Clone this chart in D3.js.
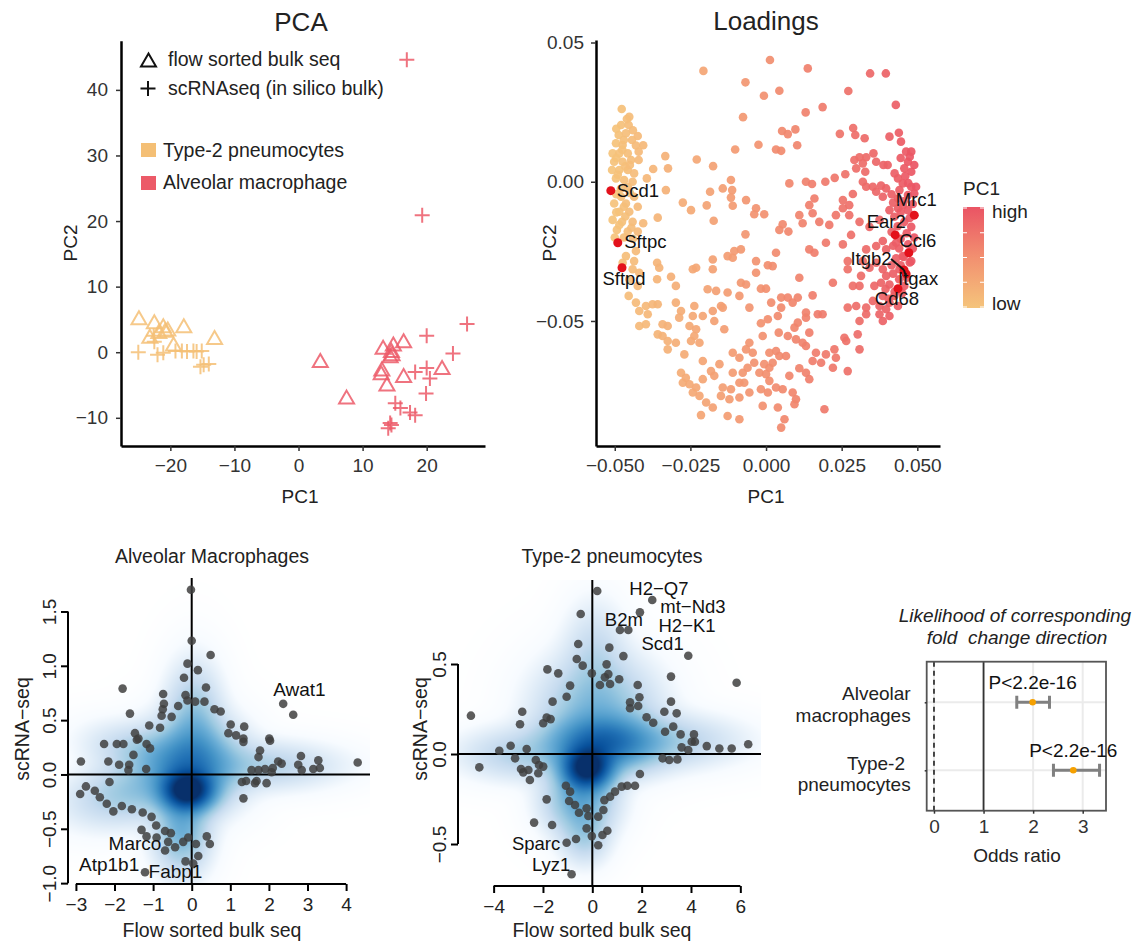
<!DOCTYPE html>
<html>
<head>
<meta charset="utf-8">
<script src="https://cdn.jsdelivr.net/npm/d3@7"></script>
<style>
  body { margin: 0; background: #fff; }
</style>
</head>
<body>
<script>
// ---------------- data ----------------
// PCA scores (PC1, PC2) per group
var t2BulkPC1 = [-24.9, -22.5, -23.2, -21.1, -20.4, -21.8, -17.9, -19.5, -13.1, -20.8];
var t2BulkPC2 = [5.1, 4.5, 2.3, 3.9, 3.4, 3.0, 3.9, 1.1, 2.1, 3.2];
var t2ScPC1 = [-25.0, -22.5, -22.0, -21.1, -19.2, -18.2, -17.4, -16.4, -15.9, -15.1, -14.8, -15.3, -14.0, -22.6];
var t2ScPC2 = [0, 1.6, -0.4, -0.1, 0.2, 0.2, 0.1, 0.2, 0.1, 0.2, -1.9, -2.2, -1.8, 2.5];
var amBulkPC1 = [3.4, 7.5, 13.2, 14.8, 16.4, 14.6, 14.3, 13.0, 12.9, 13.8, 16.4, 22.4, 14.5];
var amBulkPC2 = [-1.4, -7.0, 0.6, 1.1, 1.6, -0.4, -0.7, -2.7, -3.3, -5.0, -3.7, -2.5, 0.1];
var amScPC1 = [20.0, 26.3, 24.1, 20.0, 20.5, 18.2, 19.9, 15.1, 15.9, 17.4, 18.2, 14.3, 14.0, 14.5, 16.9, 19.3];
var amScPC2 = [2.5, 4.3, -0.2, -2.4, -4.0, -3.0, -6.3, -7.8, -8.5, -9.2, -9.6, -10.8, -11.6, -11.1, 44.6, 20.9];

// gene loadings [PC1, PC2]
var loadings = [
[0.0013,0.0437],[0.0138,0.0407],[-0.0207,0.0398],[0.0344,0.0389],[0.0396,0.0389],[-0.0068,0.0357],[0.0044,0.0327],[-0.0007,0.0309],[0.0272,0.0326],[0.0429,0.0276],[0.0187,0.0268],[0.0131,0.0249],[-0.0076,0.0232],[0.0097,0.0188],[0.0053,0.0182],[0.0072,0.0171],[0.0244,0.0172],[0.0288,0.0193],[0.0295,0.0168],[0.0326,0.0156],[0.0103,0.0131],[-0.0025,0.0133],[-0.0102,0.0116],[0.0033,0.0116],[0.0050,0.0111],[-0.0229,0.0080],[-0.0175,0.0056],[-0.0333,0.0092],[-0.0324,0.0048],[-0.0373,0.0046],[-0.0394,0.0012],[-0.0331,-0.0030],[-0.0358,-0.0129],[-0.0406,-0.0149],
[0.0408,0.0162],[0.0439,0.0176],[0.0446,0.0144],[0.0463,0.0108],[0.0480,0.0108],[0.0469,0.0072],[0.0457,0.0048],[0.0480,0.0036],[0.0402,0.0060],[0.0388,0.0060],[0.0355,0.0102],[0.0331,0.0088],[0.0309,0.0088],[0.0292,0.0078],[0.0320,0.0066],[0.0364,0.0072],[0.0298,0.0048],[0.0328,0.0036],[0.0262,0.0027],[0.0227,0.0014],[0.0196,0.0000],[0.0132,0.0000],[0.0152,-0.0008],[0.0077,-0.0006],[0.0320,0.0000],[0.0331,-0.0018],[0.0353,-0.0018],[0.0380,-0.0014],[0.0397,-0.0024],[0.0364,-0.0036],[0.0386,-0.0054],[0.0436,0.0012],[0.0452,-0.0006],[0.0480,-0.0018],[0.0496,-0.0018],[0.0441,-0.0030],[0.0469,-0.0048],[0.0490,-0.0042],[0.0436,-0.0060],[0.0452,-0.0084],[0.0436,-0.0095],[0.0469,-0.0102],[0.0424,-0.0126],[0.0408,-0.0102],[0.0480,-0.0162],[0.0457,-0.0144],
[0.0445,0.0085],[0.0475,0.0090],[0.0490,0.0060],[0.0460,0.0020],[0.0425,0.0030],[0.0470,-0.0005],[0.0415,-0.0045],[0.0455,-0.0070],[0.0485,-0.0080],[0.0420,-0.0075],[0.0445,-0.0110],[0.0475,-0.0130],[0.0435,-0.0160],[0.0465,-0.0185],[0.0490,-0.0200],[0.0445,-0.0205],[0.0415,-0.0180],[0.0470,-0.0225],[0.0440,-0.0240],[0.0420,-0.0230],[0.0485,-0.0240],[0.0455,-0.0270],[0.0430,-0.0275],[0.0475,-0.0290],[0.0445,-0.0300],[0.0415,-0.0300],[0.0465,-0.0345],[0.0440,-0.0350],[0.0420,-0.0330],[0.0450,-0.0400],[0.0425,-0.0395],[0.0405,-0.0420],[0.0395,-0.0385],
[0.0287,-0.0044],[0.0254,-0.0066],[0.0275,-0.0084],[0.0254,-0.0095],[0.0160,-0.0060],[0.0143,-0.0084],[0.0110,-0.0120],[0.0121,-0.0149],[0.0154,-0.0113],[0.0176,-0.0144],[0.0209,-0.0155],[0.0231,-0.0120],[0.0275,-0.0120],[0.0309,-0.0144],[0.0281,-0.0191],[0.0342,-0.0162],[0.0375,-0.0137],[0.0055,-0.0153],[0.0044,-0.0173],[0.0074,-0.0179],[-0.0033,-0.0095],[-0.0006,-0.0117],[-0.0039,-0.0117],[-0.0066,-0.0066],[-0.0116,0.0006],[-0.0143,-0.0024],[-0.0112,-0.0030],[-0.0185,-0.0036],[-0.0116,-0.0057],[-0.0110,-0.0086],[-0.0196,-0.0085],[-0.0275,-0.0075],[-0.0248,-0.0102],[-0.0173,-0.0140],[-0.0068,-0.0189],
[-0.0477,0.0261],[-0.0452,0.0233],[-0.0479,0.0204],[-0.0454,0.0204],[-0.0487,0.0168],[-0.0463,0.0174],[-0.0424,0.0164],[-0.0443,0.0150],[-0.0406,0.0131],[-0.0496,0.0138],[-0.0474,0.0132],[-0.0507,0.0102],[-0.0485,0.0102],[-0.0457,0.0102],[-0.0421,0.0108],[-0.0502,0.0072],[-0.0474,0.0072],[-0.0446,0.0078],[-0.0421,0.0078],[-0.0509,0.0042],[-0.0485,0.0042],[-0.0457,0.0042],[-0.0436,0.0030],[-0.0496,0.0012],[-0.0469,0.0006],[-0.0441,0.0000],[-0.0457,-0.0018],[-0.0479,-0.0054],[-0.0502,-0.0078],[-0.0463,-0.0078],[-0.0436,-0.0054],[-0.0485,-0.0108],[-0.0452,-0.0108],[-0.0424,-0.0090],[-0.0507,-0.0137],[-0.0476,-0.0144],[-0.0441,-0.0144],[-0.0493,-0.0173],[-0.0457,-0.0179],[-0.0424,-0.0179],
[-0.0495,0.0190],[-0.0470,0.0150],[-0.0495,0.0085],[-0.0465,0.0055],[-0.0490,0.0025],[-0.0450,0.0060],[-0.0480,-0.0025],[-0.0495,-0.0045],[-0.0450,-0.0040],[-0.0470,-0.0090],[-0.0495,-0.0110],[-0.0465,-0.0125],[-0.0485,-0.0155],[-0.0445,-0.0165],[-0.0470,-0.0200],[-0.0500,-0.0200],[-0.0440,-0.0205],[-0.0460,0.0225],[-0.0440,0.0185],[-0.0475,0.0115],[-0.0430,0.0130],
[-0.0430,-0.0249],[-0.0463,-0.0267],[-0.0436,-0.0285],[-0.0474,-0.0291],[-0.0441,-0.0314],[-0.0419,-0.0327],[-0.0452,-0.0350],[-0.0424,-0.0374],[-0.0454,-0.0410],[-0.0430,-0.0434],[-0.0397,-0.0446],[-0.0419,-0.0464],[-0.0391,-0.0476],[-0.0419,-0.0518],[-0.0397,-0.0512],[-0.0360,-0.0291],[-0.0353,-0.0309],[-0.0360,-0.0350],[-0.0314,-0.0341],[-0.0298,-0.0374],[-0.0375,-0.0440],[-0.0358,-0.0440],[-0.0358,-0.0548],[-0.0342,-0.0512],[-0.0325,-0.0518],[-0.0342,-0.0554],[-0.0325,-0.0572],[-0.0298,-0.0578],[-0.0325,-0.0602],[-0.0270,-0.0620],[-0.0298,-0.0434],[-0.0281,-0.0464],[-0.0287,-0.0488],[-0.0242,-0.0314],[-0.0231,-0.0309],[-0.0237,-0.0446],[-0.0242,-0.0482],[-0.0253,-0.0518],[-0.0231,-0.0530],[-0.0209,-0.0482],[-0.0237,-0.0554],[-0.0248,-0.0572],[-0.0220,-0.0578],[-0.0176,-0.0279],[-0.0176,-0.0314],[-0.0193,-0.0386],[-0.0165,-0.0392],[-0.0176,-0.0464],[-0.0143,-0.0452],[-0.0171,-0.0500],[-0.0149,-0.0446],[-0.0138,-0.0530],[-0.0127,-0.0267],[-0.0110,-0.0273],[-0.0105,-0.0249],[-0.0083,-0.0243],[-0.0083,-0.0363],[-0.0066,-0.0369],[-0.0127,-0.0398],[-0.0088,-0.0410],[-0.0055,-0.0452],[-0.0033,-0.0285],[0.0006,-0.0300],[0.0022,-0.0303],[-0.0033,-0.0327],[0.0033,-0.0255],[-0.0017,-0.0384],[0.0000,-0.0384],[0.0017,-0.0434],[0.0050,-0.0416],[0.0072,-0.0416],[0.0088,-0.0434],[0.0105,-0.0416],[0.0050,-0.0452],[0.0039,-0.0482],[0.0006,-0.0494],[-0.0017,-0.0508],[-0.0011,-0.0554],[0.0042,-0.0542],[0.0094,-0.0524],[0.0110,-0.0345],[0.0143,-0.0243],[0.0160,-0.0255],[0.0198,-0.0219],[0.0254,-0.0225],[0.0270,-0.0285],[0.0221,-0.0363],[0.0154,-0.0408],[0.0132,-0.0470],[0.0132,-0.0488],[0.0105,-0.0506],[0.0171,-0.0476],[0.0187,-0.0476],[0.0143,-0.0542],[0.0121,-0.0578],[0.0132,-0.0590],[0.0165,-0.0614],[0.0198,-0.0620],[0.0226,-0.0602],[0.0259,-0.0560],[0.0265,-0.0572],[0.0303,-0.0548],[0.0309,-0.0602],[0.0231,-0.0632],[0.0221,-0.0668],[0.0270,-0.0680],[0.0270,-0.0452],[0.0298,-0.0446],[0.0331,-0.0452],[0.0309,-0.0500],[0.0331,-0.0476],[0.0287,-0.0374],[0.0309,-0.0374],[0.0314,-0.0338],[0.0270,-0.0314],[0.0386,-0.0500],[0.0408,-0.0482],[0.0375,-0.0476],[0.0353,-0.0428],[0.0375,-0.0446],[0.0397,-0.0458],[0.0386,-0.0410],[0.0408,-0.0434],[0.0436,-0.0446],[0.0424,-0.0410],[0.0358,-0.0374],[0.0380,-0.0363],[0.0397,-0.0338],[0.0408,-0.0369],[0.0441,-0.0314],[0.0386,-0.0314],[0.0364,-0.0291],[0.0342,-0.0309],[0.0320,-0.0285],[0.0331,-0.0243],[0.0364,-0.0231],[0.0397,-0.0243],[0.0386,-0.0213],[0.0430,-0.0219],[0.0452,-0.0267],[0.0480,-0.0285],[0.0457,-0.0374],
[-0.0209,-0.0644],[-0.0281,-0.0686],[-0.0265,-0.0704],[-0.0275,-0.0722],[-0.0253,-0.0727],[-0.0231,-0.0739],[-0.0242,-0.0757],[-0.0220,-0.0769],[-0.0198,-0.0793],[-0.0176,-0.0811],[-0.0215,-0.0838],[-0.0182,-0.0680],[-0.0209,-0.0709],[-0.0171,-0.0697],[-0.0154,-0.0655],[-0.0143,-0.0739],[-0.0116,-0.0745],[-0.0149,-0.0769],[-0.0121,-0.0781],[-0.0127,-0.0841],[-0.0088,-0.0853],[-0.0088,-0.0775],[-0.0055,-0.0757],[-0.0110,-0.0614],[-0.0088,-0.0632],[-0.0110,-0.0686],[-0.0077,-0.0686],[-0.0061,-0.0668],[-0.0088,-0.0722],[-0.0072,-0.0722],[-0.0055,-0.0578],[-0.0044,-0.0614],[-0.0039,-0.0650],[-0.0022,-0.0686],[-0.0006,-0.0655],[0.0011,-0.0668],[0.0000,-0.0691],[0.0022,-0.0650],[0.0033,-0.0608],[0.0044,-0.0626],[0.0066,-0.0626],[0.0011,-0.0715],[-0.0017,-0.0745],[0.0006,-0.0757],[0.0033,-0.0739],[0.0055,-0.0745],[-0.0011,-0.0805],[0.0039,-0.0811],[0.0088,-0.0757],[0.0099,-0.0781],[0.0094,-0.0799],[0.0061,-0.0853],[0.0050,-0.0883],[0.0110,-0.0670],[0.0132,-0.0686],[0.0143,-0.0709],[0.0077,-0.0697],[0.0011,-0.0614],[0.0072,-0.0554],[0.0099,-0.0566],[0.0193,-0.0817],[0.0154,-0.0644],[0.0182,-0.0650],[-0.0066,-0.0602]
];

// highlighted genes in the loadings plot
var geneNames = ["Scd1", "Sftpc", "Sftpd", "Mrc1", "Ear2", "Ccl6", "Itgb2", "Itgax", "Cd68"];
var genePC1 = [-0.0513, -0.0490, -0.0476, 0.0490, 0.0427, 0.0472, 0.0456, 0.0463, 0.0436];
var genePC2 = [-0.0032, -0.0219, -0.0309, -0.0120, -0.0191, -0.0255, -0.0317, -0.0331, -0.0384];

// fold changes: [flow sorted bulk, scRNA-seq]
var amFC = [
[-0.02,1.70],[0.0,1.23],[0.49,1.10],[-0.11,1.02],[0.16,0.96],[-0.20,0.89],[0.37,0.80],[-1.79,0.79],[-0.16,0.73],[-0.74,0.74],[-0.11,0.68],[0.09,0.67],[0.33,0.67],[-0.72,0.65],[-0.35,0.63],[-0.75,0.60],[0.59,0.60],[0.75,0.58],[-0.78,0.54],[-0.52,0.53],[-1.60,0.56],[2.37,0.65],[2.63,0.55],[-1.10,0.45],[-0.82,0.43],[1.01,0.46],[1.36,0.44],[-1.47,0.38],[0.95,0.38],[1.15,0.36],[1.34,0.33],[-1.38,0.33],[2.01,0.33],
[-2.27,0.28],[-1.94,0.28],[-1.77,0.28],[-1.42,0.32],[-1.17,0.28],[-1.08,0.24],[-1.51,0.18],[-2.87,0.12],[-2.16,0.12],[-1.88,0.09],[-1.62,0.09],[-1.64,0.04],[-1.18,0.05],[1.34,0.30],[1.77,0.22],[2.03,0.31],[1.73,0.16],[2.24,0.12],[2.33,0.10],[1.55,0.04],[1.73,0.04],[1.90,0.05],[2.07,0.02],[2.10,0.06],[2.76,0.09],[2.85,0.04],[2.83,0.17],[3.15,0.05],[3.28,0.13],[3.32,0.06],[4.30,0.11],[1.30,-0.07],[1.41,-0.06],[1.64,-0.08],[1.68,-0.06],[1.94,-0.08],[1.34,-0.22],[-2.13,-0.07],[-2.74,-0.11],[-2.89,-0.18],[-2.51,-0.15],[-2.38,-0.21],[-2.20,-0.27],[-2.03,-0.34],[-1.81,-0.29],[-1.55,-0.32],[-1.27,-0.35],[-1.04,-0.39],[-0.92,-0.47],[-1.30,-0.51],[-1.17,-0.57],[-0.91,-0.58],[-0.69,-0.52],[-0.54,-0.54],[-0.61,-0.62],[-0.69,-0.70],[-0.43,-0.67],[-0.22,-0.62],[-0.09,-0.58],[0.11,-0.64],[0.17,-0.75],[0.39,-0.57],[0.47,-0.64],[-0.16,-0.80],[0.04,-0.82],[-1.21,-0.90]
];
var t2FC = [
[0.20,0.906],[2.43,0.856],[1.93,0.787],[-0.47,0.778],[1.12,0.689],[1.46,0.689],[-0.57,0.611],[0.69,0.591],[1.26,0.544],[3.89,0.546],[-0.63,0.528],[-0.39,0.491],[0.58,0.498],[-1.82,0.470],[-1.38,0.448],[-0.02,0.448],[0.65,0.444],[0.51,0.426],[3.19,0.430],[5.85,0.396],[-0.90,0.380],[0.31,0.383],[0.72,0.389],[1.09,0.415],[1.84,0.383],[-1.04,0.318],[-1.61,0.291],[1.91,0.315],[1.53,0.287],[1.53,0.254],[1.86,0.267],[3.19,0.291],[2.92,0.235],[3.42,0.226],[-2.84,0.235],[-4.92,0.213],[-1.85,0.202],[-1.69,0.194],[-1.99,0.171],[-2.93,0.165],[2.20,0.204],[2.47,0.174],[3.28,0.152],[2.95,0.124],[3.58,0.109],[4.12,0.109],
[-3.31,0.046],[-3.77,0.018],[-2.66,0.028],[-3.13,-0.024],[-4.58,-0.074],[-2.89,-0.083],[-2.80,-0.102],[-2.59,-0.089],[-2.29,-0.033],[-2.16,-0.061],[-1.99,-0.070],[-2.19,-0.107],[-2.53,-0.144],[4.03,0.068],[4.16,0.068],[3.62,0.037],[3.89,0.022],[4.64,0.044],[5.15,0.031],[5.65,0.031],[6.32,0.054],[2.85,-0.024],[3.12,-0.033],[3.45,-0.030],[1.93,-0.111],[1.73,-0.176],[1.42,-0.176],[1.19,-0.181],[0.92,-0.209],[0.72,-0.237],[0.49,-0.256],[0.45,-0.311],[0.24,-0.348],[-0.16,-0.344],[-0.23,-0.302],[-0.54,-0.326],[-0.70,-0.283],[-0.94,-0.261],[-0.90,-0.209],[-1.07,-0.176],[-1.85,-0.252],[-2.36,-0.381],[-1.63,-0.394],[-0.23,-0.413],[-0.02,-0.456],[0.41,-0.450],[0.61,-0.426],[-0.66,-0.472],[-1.04,-0.493],[0.24,-0.507],[-0.84,-0.668]
];

// labelled genes in the fold change panels: [name, bulk, scRNA] (text anchor points)
var amLabels = [["Awat1", 2.79, 0.72], ["Marco", -1.47, -0.695], ["Atp1b1", -2.14, -0.89], ["Fabp1", -0.42, -0.955]];
var t2Labels = [["H2\u2212Q7", 2.70, 0.883], ["mt\u2212Nd3", 4.08, 0.782], ["B2m", 1.28, 0.711], ["H2\u2212K1", 3.84, 0.680],
                ["Scd1", 2.85, 0.580], ["Sparc", -2.28, -0.533], ["Lyz1", -1.67, -0.65]];

// smoothed density components (centre, spread, weight, correlation)
var amBlobX = [-0.1, 0.0, 0.05, -1.5, 1.8, -0.25, -1.2];
var amBlobY = [-0.15, 0.1, 0.5, -0.15, 0.08, -0.5, 0.2];
var amBlobSX = [0.4, 0.7, 0.4, 0.9, 1.1, 0.4, 0.8];
var amBlobSY = [0.11, 0.22, 0.28, 0.17, 0.12, 0.22, 0.14];
var amBlobW = [1.0, 0.4, 0.14, 0.14, 0.09, 0.22, 0.1];
var amBlobR = [0, 0, 0, 0.3, 0, 0, -0.3];

var t2BlobX = [-0.2, 0.4, 0.2, -0.5, -0.3, 2.8, -2.8, 0.1];
var t2BlobY = [-0.08, 0.06, 0.25, -0.25, -0.45, 0.07, 0.0, 0.55];
var t2BlobSX = [0.6, 1.3, 1.3, 0.8, 0.55, 1.7, 1.4, 0.7];
var t2BlobSY = [0.07, 0.09, 0.16, 0.11, 0.09, 0.08, 0.08, 0.16];
var t2BlobW = [1.0, 0.5, 0.18, 0.25, 0.1, 0.1, 0.09, 0.06];
var t2BlobR = [0, 0, 0, 0, 0, 0, 0, 0];

// odds ratios
var orGroups = ["Alveolar macrophages", "Type-2 pneumocytes"];
var orEst = [1.99, 2.81];
var orLow = [1.67, 2.41];
var orHigh = [2.33, 3.34];
var orP = ["P<2.2e-16", "P<2.2e-16"];

// ---------------- drawing ----------------
var FONT = '"Liberation Sans", Arial, Helvetica, sans-serif';
var FS = 19;
var ORANGE = "#F4BF75", RED = "#EC5A68";

var svg = d3.select("body").append("svg")
    .attr("width", 1141).attr("height", 943)
    .style("font-family", FONT);

function styleAxis(g, lw, col) {
  g.attr("font-family", FONT).attr("font-size", FS);
  g.select(".domain").attr("stroke", "#000").attr("stroke-width", lw);
  g.selectAll(".tick line").attr("stroke", col || "#333").attr("stroke-width", 1.5);
  g.selectAll(".tick text").attr("fill", "#333");
}

function text(x, y, s, opts) {
  opts = opts || {};
  var t = svg.append("text").attr("x", x).attr("y", y).text(s)
      .attr("font-size", opts.size || FS)
      .attr("text-anchor", opts.anchor || "middle")
      .attr("fill", opts.fill || "#222");
  if (opts.rotate) t.attr("transform", "rotate(-90," + x + "," + y + ")");
  if (opts.italic) t.attr("font-style", "italic");
  return t;
}

// ===== PCA =====
var pcaX = d3.scaleLinear().domain([-27.7, 29.1]).range([121, 485]);
var pcaY = d3.scaleLinear().domain([-14.3, 47.5]).range([446, 40.7]);

text(301, 31, "PCA", {size: 26});

var tri = "M0,-7.5L7.5,5.5L-7.5,5.5Z";
var plus = "M-7.5,0H7.5M0,-7.5V7.5";

function pcaGroup(xs, ys, shape, color) {
  svg.append("g").selectAll("path").data(d3.zip(xs, ys)).join("path")
    .attr("transform", function (d) { return "translate(" + pcaX(d[0]) + "," + pcaY(d[1]) + ")"; })
    .attr("d", shape)
    .attr("fill", "none").attr("stroke", color).attr("stroke-width", 2)
    .attr("stroke-opacity", 0.85);
}
pcaGroup(t2BulkPC1, t2BulkPC2, tri, ORANGE);
pcaGroup(t2ScPC1, t2ScPC2, plus, ORANGE);
pcaGroup(amBulkPC1, amBulkPC2, tri, RED);
pcaGroup(amScPC1, amScPC2, plus, RED);

styleAxis(svg.append("g").attr("transform", "translate(121,0)")
  .call(d3.axisLeft(pcaY).tickValues([-10, 0, 10, 20, 30, 40]).tickSize(5).tickSizeOuter(0).tickPadding(8)), 2.5);
styleAxis(svg.append("g").attr("transform", "translate(0,446)")
  .call(d3.axisBottom(pcaX).tickValues([-20, -10, 0, 10, 20]).tickSize(5).tickSizeOuter(0).tickPadding(8)), 2.5);
text(300, 503, "PC1");
text(77, 243, "PC2", {rotate: true});

// legend
svg.append("path").attr("d", tri).attr("transform", "translate(148.5,61)")
  .attr("fill", "none").attr("stroke", "#111").attr("stroke-width", 2);
svg.append("path").attr("d", plus).attr("transform", "translate(148,88.5)")
  .attr("fill", "none").attr("stroke", "#111").attr("stroke-width", 2);
text(168, 66, "flow sorted bulk seq", {anchor: "start", size: 19.5});
text(168, 95, "scRNAseq (in silico bulk)", {anchor: "start", size: 19.5});
svg.append("rect").attr("x", 141).attr("y", 143).attr("width", 15).attr("height", 14).attr("fill", ORANGE);
svg.append("rect").attr("x", 141).attr("y", 176).attr("width", 15).attr("height", 14).attr("fill", RED);
text(163, 157, "Type-2 pneumocytes", {anchor: "start", size: 19.5});
text(163, 189, "Alveolar macrophage", {anchor: "start", size: 19.5});

// ===== Loadings =====
var ldX = d3.scaleLinear().domain([-0.0562, 0.0575]).range([596, 940]);
var ldY = d3.scaleLinear().domain([-0.0949, 0.0509]).range([446, 40]);
var ldColor = d3.scaleLinear().domain([-0.052, 0.05]).range(["#F5C47B", "#EA5464"]).interpolate(d3.interpolateLab);

text(766, 30, "Loadings", {size: 26});

svg.append("g").selectAll("circle").data(loadings).join("circle")
  .attr("cx", function (d) { return ldX(d[0]); })
  .attr("cy", function (d) { return ldY(d[1]); })
  .attr("r", 4.3)
  .attr("fill", function (d) { return ldColor(d[0]); })
  .attr("fill-opacity", 0.92);

var genes = geneNames.map(function (n, i) { return {name: n, x: genePC1[i], y: genePC2[i]}; });
svg.append("g").selectAll("circle").data(genes).join("circle")
  .attr("cx", function (d) { return ldX(d.x); })
  .attr("cy", function (d) { return ldY(d.y); })
  .attr("r", 4.5).attr("fill", "#E3111B");

// label layout (pixel offsets from point, anchor)
var geneLabelPos = {
  Scd1: [6, 6.5, "start"], Sftpc: [6.5, 5.5, "start"], Sftpd: [2, 17, "middle"],
  Mrc1: [2, -9, "middle"], Ear2: [-9, -7, "middle"], Ccl6: [9, -5.5, "middle"],
  Itgb2: [-33, -5, "middle"], Itgax: [12, 11, "middle"], Cd68: [-1, 16.5, "middle"]
};
svg.append("line").attr("x1", 891).attr("y1", 259).attr("x2", ldX(genePC1[6])).attr("y2", ldY(genePC2[6]))
  .attr("stroke", "#111").attr("stroke-width", 2);
svg.append("line").attr("x1", ldX(genePC1[6])).attr("y1", ldY(genePC2[6])).attr("x2", ldX(genePC1[7])).attr("y2", ldY(genePC2[7]) + 3)
  .attr("stroke", "#111").attr("stroke-width", 2);
genes.forEach(function (g) {
  var p = geneLabelPos[g.name];
  text(ldX(g.x) + p[0], ldY(g.y) + p[1], g.name, {anchor: p[2], size: 18.5, fill: "#111"});
});

styleAxis(svg.append("g").attr("transform", "translate(596,0)")
  .call(d3.axisLeft(ldY).tickValues([-0.05, 0, 0.05]).tickFormat(d3.format(".2f")).tickSize(5).tickSizeOuter(0).tickPadding(7)), 2.5);
styleAxis(svg.append("g").attr("transform", "translate(0,446)")
  .call(d3.axisBottom(ldX).tickValues([-0.05, -0.025, 0, 0.025, 0.05]).tickFormat(d3.format(".3f")).tickSize(5).tickSizeOuter(0).tickPadding(8)), 2.5);
text(766, 503, "PC1");
text(556, 243, "PC2", {rotate: true});

// colour bar legend
var defs = svg.append("defs");
var grad = defs.append("linearGradient").attr("id", "pc1grad").attr("x1", 0).attr("x2", 0).attr("y1", 0).attr("y2", 1);
grad.append("stop").attr("offset", "0%").attr("stop-color", ldColor(0.05));
grad.append("stop").attr("offset", "50%").attr("stop-color", ldColor(-0.001));
grad.append("stop").attr("offset", "100%").attr("stop-color", ldColor(-0.052));
svg.append("rect").attr("x", 963).attr("y", 207).attr("width", 21).attr("height", 101).attr("fill", "url(#pc1grad)");
var barScale = d3.scaleLinear().domain([0, 4]).range([208, 307]);
svg.append("g").selectAll("path").data(d3.range(5)).join("path")
  .attr("d", function (d) { var y = barScale(d); return "M963," + y + "h4M980," + y + "h4"; })
  .attr("stroke", "#fff").attr("stroke-width", 1.2);
text(963, 195, "PC1", {anchor: "start"});
text(992, 218, "high", {anchor: "start"});
text(992, 310, "low", {anchor: "start"});

// ===== smoothScatter panels =====
var blues = ["#FFFFFF", "#F7FBFF", "#DEEBF7", "#C6DBEF", "#9ECAE1", "#6BAED6", "#4292C6", "#2171B5", "#08519C", "#08306B"];
var ramp = d3.scaleLinear().domain(d3.range(10).map(function (i) { return i / 9; })).range(blues);

function blobs(xs, ys, sxs, sys, ws, rs) {
  return xs.map(function (x, i) { return {x: x, y: ys[i], sx: sxs[i], sy: sys[i], w: ws[i], r: rs[i]}; });
}

function densityImage(xs, ys, comps) {
  var x0 = Math.round(xs.range()[0]), x1 = Math.round(xs.range()[1]);
  var y0 = Math.round(ys.range()[1]), y1 = Math.round(ys.range()[0]);
  var w = x1 - x0, h = y1 - y0;
  var cv = document.createElement("canvas");
  cv.width = w; cv.height = h;
  var ctx = cv.getContext("2d"), img = ctx.createImageData(w, h);
  for (var j = 0; j < h; j++) {
    var vy = ys.invert(y0 + j + 0.5);
    for (var i = 0; i < w; i++) {
      var vx = xs.invert(x0 + i + 0.5), d = 0;
      for (var k = 0; k < comps.length; k++) {
        var c = comps[k], zx = (vx - c.x) / c.sx, zy = (vy - c.y) / c.sy;
        d += c.w * Math.exp(-0.5 * (zx * zx - 2 * c.r * zx * zy + zy * zy) / (1 - c.r * c.r));
      }
      var col = d3.rgb(ramp(Math.pow(Math.min(d, 1), 0.4)));
      var o = 4 * (j * w + i);
      img.data[o] = col.r; img.data[o + 1] = col.g; img.data[o + 2] = col.b; img.data[o + 3] = 255;
    }
  }
  ctx.putImageData(img, 0, 0);
  svg.append("image").attr("x", x0).attr("y", y0).attr("width", w).attr("height", h)
    .attr("href", cv.toDataURL());
}

function fcPanel(xs, ys, comps, pts, labels, labelSize, xticks, yticks, title, titleX, xlabX, ylabX) {
  densityImage(xs, ys, comps);
  var r = xs.range(), d = ys.range();
  // zero lines
  svg.append("line").attr("x1", r[0]).attr("x2", r[1]).attr("y1", ys(0)).attr("y2", ys(0))
    .attr("stroke", "#000").attr("stroke-width", 2);
  svg.append("line").attr("x1", xs(0)).attr("x2", xs(0)).attr("y1", d[1]).attr("y2", d[0])
    .attr("stroke", "#000").attr("stroke-width", 2);
  // outlying genes
  svg.append("g").selectAll("circle").data(pts).join("circle")
    .attr("cx", function (p) { return xs(p[0]); })
    .attr("cy", function (p) { return ys(p[1]); })
    .attr("r", 4.3).attr("fill", "#3f3f3f").attr("fill-opacity", 0.85);
  labels.forEach(function (l) { text(xs(l[1]), ys(l[2]), l[0], {fill: "#111", size: labelSize}); });

  // R style axes
  var ya = svg.append("g").attr("transform", "translate(" + r[0] + ",0)")
    .call(d3.axisLeft(ys).tickValues(yticks).tickFormat(d3.format(".1f")).tickSize(7).tickSizeOuter(0));
  styleAxis(ya, 2, "#000");
  ya.select(".domain").remove();
  ya.append("line").attr("y1", ys(yticks[0])).attr("y2", ys(yticks[yticks.length - 1]))
    .attr("stroke", "#000").attr("stroke-width", 2);
  ya.selectAll(".tick text").attr("x", 0).attr("dy", null).attr("text-anchor", "middle")
    .attr("transform", "translate(-12,0) rotate(-90)").attr("fill", "#222");
  ya.selectAll(".tick line").attr("stroke-width", 2);

  var xa = svg.append("g").attr("transform", "translate(0," + d[0] + ")")
    .call(d3.axisBottom(xs).tickValues(xticks).tickSize(7).tickSizeOuter(0).tickPadding(7));
  styleAxis(xa, 2, "#000");
  xa.select(".domain").remove();
  xa.append("line").attr("x1", xs(xticks[0])).attr("x2", xs(xticks[xticks.length - 1]))
    .attr("stroke", "#000").attr("stroke-width", 2);
  xa.selectAll(".tick text").attr("fill", "#222");
  xa.selectAll(".tick line").attr("stroke-width", 2);

  text(titleX, 563, title, {fill: "#222", size: 19.5});
  text(xlabX, 937, "Flow sorted bulk seq", {size: 19.5});
  text(ylabX, 729, "scRNA\u2212seq", {rotate: true, size: 19.5});
}

var amX = d3.scaleLinear().domain([-3.205, 4.619]).range([68, 370]);
var amY = d3.scaleLinear().domain([-1.008, 1.808]).range([884, 578]);
fcPanel(amX, amY, blobs(amBlobX, amBlobY, amBlobSX, amBlobSY, amBlobW, amBlobR), amFC, amLabels, 19,
  [-3, -2, -1, 0, 1, 2, 3, 4], [-1, -0.5, 0, 0.5, 1, 1.5], "Alveolar Macrophages", 212, 212, 29);

var t2X = d3.scaleLinear().domain([-5.444, 6.838]).range([458, 761]);
var t2Y = d3.scaleLinear().domain([-0.7333, 0.9667]).range([886, 580]);
fcPanel(t2X, t2Y, blobs(t2BlobX, t2BlobY, t2BlobSX, t2BlobSY, t2BlobW, t2BlobR), t2FC, t2Labels, 18.5,
  [-4, -2, 0, 2, 4, 6], [-0.5, 0, 0.5], "Type-2 pneumocytes", 612, 602, 427);

// ===== Odds ratio =====
var orX = d3.scaleLinear().domain([-0.147, 3.47]).range([926.7, 1106]);
var orY = d3.scalePoint().domain(orGroups).range([702.3, 770.3]);
var pTop = 661.7, pBot = 810.7;

text(1015, 622, "Likelihood of corresponding", {italic: true});
text(1017, 644, "fold  change direction", {italic: true}).style("white-space", "pre");

var og = svg.append("g");
og.selectAll(".vg").data([0, 1, 2, 3]).join("line")
  .attr("x1", function (d) { return orX(d); }).attr("x2", function (d) { return orX(d); })
  .attr("y1", pTop).attr("y2", pBot).attr("stroke", "#EBEBEB").attr("stroke-width", 2);
og.selectAll(".hg").data(orGroups).join("line")
  .attr("x1", orX.range()[0]).attr("x2", orX.range()[1])
  .attr("y1", function (d) { return orY(d); }).attr("y2", function (d) { return orY(d); })
  .attr("stroke", "#EBEBEB").attr("stroke-width", 2);
og.append("line").attr("x1", orX(0)).attr("x2", orX(0)).attr("y1", pTop).attr("y2", pBot)
  .attr("stroke", "#111").attr("stroke-width", 1.5).attr("stroke-dasharray", "5,4");
og.append("line").attr("x1", orX(1)).attr("x2", orX(1)).attr("y1", pTop).attr("y2", pBot)
  .attr("stroke", "#333").attr("stroke-width", 1.8);

orGroups.forEach(function (g, i) {
  var y = orY(g);
  og.append("path")
    .attr("d", "M" + orX(orLow[i]) + "," + y + "H" + orX(orHigh[i]) +
      "M" + orX(orLow[i]) + "," + (y - 6.5) + "V" + (y + 6.5) +
      "M" + orX(orHigh[i]) + "," + (y - 6.5) + "V" + (y + 6.5))
    .attr("fill", "none").attr("stroke", "#808080").attr("stroke-width", 3);
  og.append("circle").attr("cx", orX(orEst[i])).attr("cy", y).attr("r", 3.3).attr("fill", "#F5A000");
  text(orX(orEst[i]), y - 13, orP[i], {fill: "#111"});
});
og.append("rect").attr("x", 926.7).attr("y", pTop).attr("width", 1106 - 926.7).attr("height", pBot - pTop)
  .attr("fill", "none").attr("stroke", "#555").attr("stroke-width", 1.8);

var ox = svg.append("g").attr("transform", "translate(0," + pBot + ")")
  .call(d3.axisBottom(orX).tickValues([0, 1, 2, 3]).tickFormat(d3.format("d")).tickSize(3).tickSizeOuter(0).tickPadding(6));
styleAxis(ox, 0, "#333");
ox.select(".domain").remove();
var oy = svg.append("g").attr("transform", "translate(926.7,0)")
  .call(d3.axisLeft(orY).tickSize(2).tickSizeOuter(0).tickFormat(""));
styleAxis(oy, 0, "#333");
oy.select(".domain").remove();
text(910.7, 700, "Alveolar", {anchor: "end", fill: "#222"});
text(910.7, 722, "macrophages", {anchor: "end", fill: "#222"});
text(905, 770, "Type-2", {anchor: "end", fill: "#222"});
text(910.7, 791, "pneumocytes", {anchor: "end", fill: "#222"});
text(1017, 862, "Odds ratio", {fill: "#222"});
</script>
</body>
</html>
